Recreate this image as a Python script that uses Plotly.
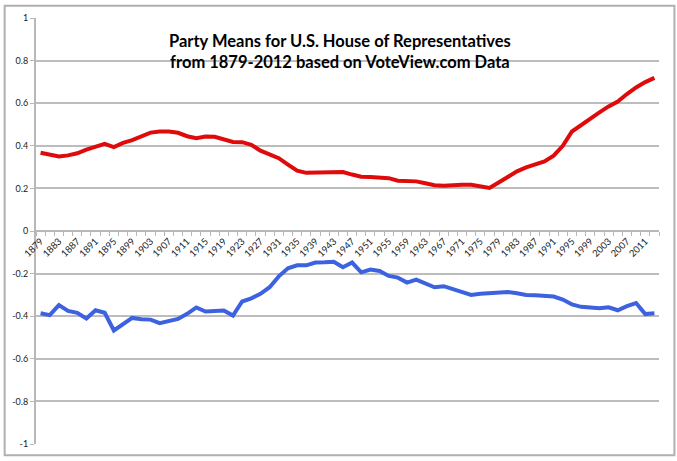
import plotly.graph_objects as go

years = list(range(1879, 2014, 2))

republican = [0.367, 0.358, 0.350, 0.355, 0.365, 0.382, 0.397, 0.409, 0.394, 0.414,
              0.427, 0.445, 0.462, 0.467, 0.467, 0.461, 0.445, 0.436, 0.444, 0.442,
              0.429, 0.418, 0.417, 0.405, 0.377, 0.358, 0.342, 0.312, 0.283, 0.273,
              0.273, 0.277, 0.273, 0.277, 0.265, 0.255, 0.253, 0.250, 0.248, 0.236,
              0.236, 0.233, 0.224, 0.215, 0.212, 0.216, 0.217, 0.217, 0.209, 0.202,
              0.228, 0.254, 0.280, 0.299, 0.313, 0.327, 0.354, 0.400, 0.467, 0.498,
              0.527, 0.557, 0.585, 0.608, 0.643, 0.674, 0.699, 0.719]

democrat = [-0.386, -0.395, -0.348, -0.375, -0.384, -0.411, -0.372, -0.384, -0.467, -0.438,
            -0.408, -0.414, -0.416, -0.433, -0.425, -0.413, -0.389, -0.359, -0.378, -0.377,
            -0.373, -0.397, -0.331, -0.316, -0.295, -0.264, -0.213, -0.175, -0.161, -0.161,
            -0.148, -0.147, -0.144, -0.170, -0.148, -0.194, -0.181, -0.188, -0.211, -0.219,
            -0.242, -0.228, -0.248, -0.264, -0.259, -0.272, -0.284, -0.300, -0.295, -0.291,
            -0.286, -0.286, -0.292, -0.300, -0.302, -0.306, -0.308, -0.322, -0.345, -0.356,
            -0.358, -0.363, -0.358, -0.372, -0.353, -0.338, -0.390, -0.386]

x_tick_years = years[::2]
x_tick_labels = [str(y) for y in x_tick_years]
y_tick_vals = [-1, -0.8, -0.6, -0.4, -0.2, 0, 0.2, 0.4, 0.6, 0.8, 1]
y_tick_labels = ["-1", "-0.8", "-0.6", "-0.4", "-0.2", "0", "0.2", "0.4", "0.6", "0.8", "1"]

title_text = "Party Means for U.S. House of Representatives<br>from 1879-2012 based on VoteView.com Data"

fig = go.Figure()
fig.add_trace(go.Scatter(x=years, y=republican, mode="lines",
                         line=dict(color="#e00a0a", width=4), name="Republican"))
fig.add_trace(go.Scatter(x=years, y=democrat, mode="lines",
                         line=dict(color="#3c62e0", width=4), name="Democrat"))

W, H = 677, 461
L, R, T, B = 33, 18, 14, 14
pw, ph = W - L - R, H - T - B

fig.update_layout(
    width=W, height=H,
    margin=dict(l=L, r=R, t=T, b=B, pad=0),
    paper_bgcolor="white", plot_bgcolor="white",
    showlegend=False,
    font=dict(family="Lato, Open Sans, sans-serif", color="#333333", size=9),
    xaxis=dict(
        range=[years[0] - 1, years[-1] + 1],
        tickvals=x_tick_years, ticktext=x_tick_labels,
        tickangle=-45, ticks="", showgrid=False, zeroline=False,
        showline=True, linecolor="#b8b8b8", linewidth=2,
        anchor="free", position=0.5,
        tickfont=dict(size=9.5, color="#222222"),
        minor=dict(tick0=years[0] - 1, dtick=2, ticks="outside", ticklen=4,
                   tickcolor="#b8b8b8", tickwidth=1, showgrid=False),
    ),
    yaxis=dict(
        range=[-1, 1], tickvals=y_tick_vals, ticktext=y_tick_labels,
        showgrid=True, gridcolor="#bdbdbd", gridwidth=2, layer="below traces",
        zeroline=False, showline=True, linecolor="#b8b8b8", linewidth=2,
        ticks="outside", ticklen=4, tickcolor="#b8b8b8",
        tickfont=dict(size=9, color="#222222"),
    ),
    annotations=[dict(
        text="<b>" + title_text.replace("<br>", "</b><br><b>") + "</b>",
        xref="paper", yref="paper",
        x=(338 - L) / pw, y=(H - B - 48.5) / ph,
        xanchor="center", yanchor="middle", showarrow=False,
        font=dict(family="Lato, Open Sans, sans-serif", size=16.5, color="#000000"),
        align="center",
    )],
    shapes=[dict(
        type="rect", xref="paper", yref="paper",
        x0=(1.5 - L) / pw, x1=(674.5 - L) / pw,
        y0=(H - B - 458.5) / ph, y1=1 + (T - 1.5) / ph,
        line=dict(color="#b0b0b0", width=2), fillcolor="rgba(0,0,0,0)",
        layer="above",
    )],
)

fig.write_html("out.html", config={"displayModeBar": False},
               post_script="document.body.style.margin='0';")
